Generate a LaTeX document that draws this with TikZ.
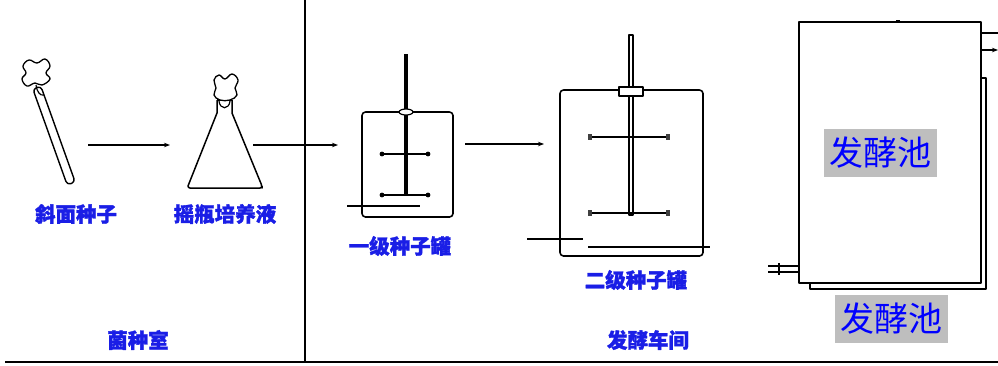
\documentclass[tikz,border=0pt]{standalone}
\usepackage{fontspec}
\newfontfamily\cjk[BoldFeatures={FakeBold=1.5}]{Noto Sans CJK SC}
\usetikzlibrary{arrows.meta}
\definecolor{labblue}{HTML}{1A1EE6}
\definecolor{tagblue}{HTML}{0000FF}
\definecolor{taggray}{HTML}{BEBEBE}
\begin{document}
\begin{tikzpicture}[x=1pt,y=-1pt,line join=round,
  ink/.style={draw=black,line width=1.5pt},
  flow/.style={draw=black,line width=1.4pt,-{Stealth[length=6pt,width=4.5pt]}},
  vessel/.style={draw=black,line width=1.6pt,fill=white,rounded corners=3.5pt,inner sep=0pt},
  pool/.style={draw=black,line width=1.8pt,fill=white,inner sep=0pt},
  lab/.style={text=labblue,font=\cjk\bfseries\fontsize{20.5}{22}\selectfont,inner sep=0pt},
  pooltag/.style={fill=taggray,text=tagblue,font=\cjk\fontsize{34}{36}\selectfont,
    minimum width=113pt,minimum height=48pt,inner sep=0pt},
  knob/.style={fill=black,draw=none}]
\useasboundingbox (0,0) rectangle (998,365);
\fill[white] (0,0) rectangle (998,365);

% ---- ground line and section divider
\coordinate (g0) at (5,362);
\coordinate (g1) at (998,362);
\coordinate (d0) at (305,0);
\coordinate (d1) at (305,362);
\draw[line width=2pt] (g0) -- (g1);
\draw[line width=1.5pt] (d0) -- (d1);

% ---- slant tube with cotton plug
\node[draw=black,line width=1.4pt,rounded corners=3.8pt,minimum width=102pt,
  minimum height=8.5pt,inner sep=0pt,rotate=-70.3] (tube) at (54,135.5) {};
\draw[ink,line width=1.3pt,fill=white] plot[smooth cycle,tension=0.7] coordinates
  {(23,66) (29,60) (37,63) (45,59) (50,66) (46,73) (50,79) (42,85) (35,83) (27,86) (22,79) (26,73)};
\draw[line width=1.2pt] (36,85) .. controls (37,92) and (40,96) .. (44,95);

% ---- shake flask with cotton plug
\draw[ink,fill=white] (217,100) -- (217,113) -- (188,186) [rounded corners=2pt] -- (188,188) -- (262,188) -- (262,186) [sharp corners] -- (232,113) -- (232,100);
\draw[ink] (217,100) -- (232,100);
\draw[line width=1.2pt] (219,101) .. controls (220,110) and (229,110) .. (230,101);
\draw[ink,line width=1.3pt,fill=white] plot[smooth cycle,tension=0.7] coordinates
  {(214,80) (219,75) (225,79) (232,74) (238,80) (235,88) (237,95) (230,100) (220,100) (214,95) (216,88)};

% ---- first-stage seed tank
\node[vessel,minimum width=91pt,minimum height=105pt] (tank1) at (407.5,164.5) {};
\draw[line width=3.4pt] (406,54) -- (406,195);
\draw[line width=1.6pt] (382,154) -- (428,154);
\draw[line width=1.6pt] (382,195) -- (428,195);
\foreach \px/\py in {382/154,428/154,382/195,428/195}
  \fill[knob] (\px,\py) circle (2.4pt);
\draw[line width=1.2pt,fill=white] (406,112) ellipse (7pt and 3pt);
\draw[line width=1.4pt] (347,206) -- (420,206);

% ---- second-stage seed tank
\node[vessel,minimum width=143pt,minimum height=166pt] (tank2) at (631.5,173) {};
\draw[line width=1.3pt,fill=white] (629,35) rectangle (633,215);
\draw[line width=1.5pt,fill=white] (619,87) rectangle (643,96);
\draw[line width=1.5pt] (590,137) -- (668,137);
\draw[line width=1.5pt] (590,213) -- (668,213);
\foreach \px/\py in {590/137,668/137,590/213,668/213}
  \fill[knob,black!75] (\px-2.3,\py-3) rectangle (\px+2.3,\py+3);
\draw[line width=1.4pt] (527,239) -- (583,239);
\draw[line width=1.4pt] (588,247) -- (710,247);

% ---- fermentation pool (back and front walls)
\node[draw=black,line width=1.6pt,fill=white,inner sep=0pt,minimum width=176pt,
  minimum height=211pt] (poolback) at (898,183.5) {};
\node[pool,minimum width=182pt,minimum height=261pt] (pool) at (890,152.5) {};
\draw[line width=2.2pt] (896,21) -- (900,21);
\coordinate (o1) at (998,33);
\coordinate (o2) at (998,50);
\draw[line width=1.5pt] (pool.east |- o1) -- (o1);
\draw[flow] (pool.east |- o2) -- (o2);
\coordinate (i1) at (768,266);
\coordinate (i2) at (768,272);
\draw[line width=1.5pt] (i1) -- (i1 -| pool.west);
\draw[line width=1.5pt] (i2) -- (i2 -| pool.west);
\draw[line width=1.4pt] (779,263) -- (779,275);

% ---- process arrows
\coordinate (a1s) at (88,145);  \coordinate (a1e) at (170,145);
\coordinate (a2s) at (253,145); \coordinate (a2e) at (338,145);
\coordinate (a3s) at (465,144); \coordinate (a3e) at (544,144);
\draw[flow] (a1s) -- (a1e);
\draw[flow] (a2s) -- (a2e);
\draw[flow] (a3s) -- (a3e);

% ---- labels
\node[lab] (lt) at (76,214) {斜面种子};
\node[lab] (lf) at (225,214) {摇瓶培养液};
\node[lab] (l1) at (400,246) {一级种子罐};
\node[lab] (l2) at (636,280) {二级种子罐};
\node[lab] (ls1) at (138,340) {菌种室};
\node[lab] (ls2) at (648,340) {发酵车间};
\node[pooltag] (tag1) at (880.5,153) {发酵池};
\node[pooltag] (tag2) at (891.5,319) {发酵池};
\end{tikzpicture}
\end{document}
